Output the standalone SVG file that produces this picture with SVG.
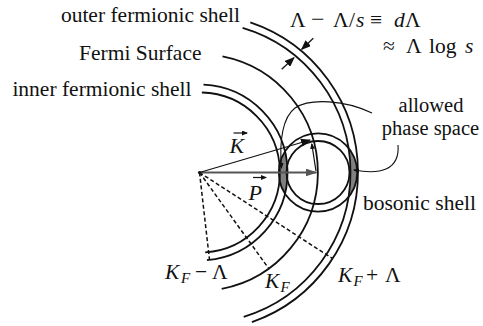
<svg xmlns="http://www.w3.org/2000/svg" width="483" height="326" viewBox="0 0 483 326">
<style>
.arc{fill:none;stroke:#111;stroke-width:1.8}
.dash{fill:none;stroke:#111;stroke-width:1.5;stroke-dasharray:4 2.5}
.lead{fill:none;stroke:#111;stroke-width:1.1}
.vec{fill:none;stroke:#111;stroke-width:1.2}
.lbl{font-family:'Liberation Serif','Tinos','DejaVu Serif','Noto Serif',serif;font-size:21.5px;fill:#111}
.it{font-style:italic}
.sub{font-family:'Liberation Serif','Tinos','DejaVu Serif','Noto Serif',serif;font-size:15px;font-style:italic;fill:#111}
.lens{fill:#808080;stroke:none}
</style>
<defs>
<marker id="ah" markerWidth="10" markerHeight="8" refX="9" refY="4" orient="auto" markerUnits="userSpaceOnUse"><path d="M0,0 L10,4 L0,8 Z" fill="#111"/></marker>
<marker id="ahg" markerWidth="12" markerHeight="8" refX="11" refY="4" orient="auto" markerUnits="userSpaceOnUse"><path d="M0,0 L12,4 L0,8 Z" fill="#555"/></marker>
<marker id="ahs" markerWidth="6" markerHeight="5" refX="5" refY="2.5" orient="auto" markerUnits="userSpaceOnUse"><path d="M0,0 L6,2.5 L0,5 Z" fill="#111"/></marker>
<clipPath id="clipInner"><path clip-rule="evenodd" d="M111.5,172.5 a88,88 0 1,0 176,0 a88,88 0 1,0 -176,0 Z M119.5,172.5 a80,80 0 1,0 160,0 a80,80 0 1,0 -160,0 Z"/></clipPath>
<clipPath id="clipOuter"><path clip-rule="evenodd" d="M41,172.5 a158.5,158.5 0 1,0 317,0 a158.5,158.5 0 1,0 -317,0 Z M48.5,172.5 a151,151 0 1,0 302,0 a151,151 0 1,0 -302,0 Z"/></clipPath>
</defs>

<g id="allowed-phase-space">
<path class="lens" fill-rule="evenodd" clip-path="url(#clipInner)" d="M278.8,172.5 a39.2,39.2 0 1,0 78.4,0 a39.2,39.2 0 1,0 -78.4,0 Z M286.5,172.5 a31.5,31.5 0 1,0 63,0 a31.5,31.5 0 1,0 -63,0 Z"/>
<path class="lens" fill-rule="evenodd" clip-path="url(#clipOuter)" d="M278.8,172.5 a39.2,39.2 0 1,0 78.4,0 a39.2,39.2 0 1,0 -78.4,0 Z M286.5,172.5 a31.5,31.5 0 1,0 63,0 a31.5,31.5 0 1,0 -63,0 Z"/>
<text class="lbl" x="431" y="112" text-anchor="middle" style="font-size:20.5px">allowed</text>
<text class="lbl" x="430.5" y="134.5" text-anchor="middle" style="font-size:20.5px">phase space</text>
</g>

<g id="inner-fermionic-shell">
<path class="arc" d="M201.9,92.5 A80,80 0 0 1 205.2,252.3"/>
<path class="arc" d="M203.5,84.6 A88,88 0 0 1 206.9,260.2"/>
<text class="lbl" x="191.5" y="96" text-anchor="end">inner fermionic shell</text>
</g>

<g id="fermi-surface">
<path class="arc" d="M222.5,56.3 A118.5,118.5 0 0 1 221.7,288.9"/>
<text class="lbl" x="201.5" y="59.5" text-anchor="end">Fermi Surface</text>
</g>

<g id="outer-fermionic-shell">
<path class="arc" d="M242.6,27.8 A151,151 0 0 1 243.7,316.9"/>
<path class="arc" d="M250.3,22.4 A158.5,158.5 0 0 1 251.9,322.1"/>
<text class="lbl" x="240" y="22" text-anchor="end">outer fermionic shell</text>
</g>

<g id="bosonic-shell">
<circle class="arc" cx="318" cy="172.5" r="31.5"/>
<circle class="arc" cx="318" cy="172.5" r="39.2"/>
<text class="lbl" x="363" y="210">bosonic shell</text>
</g>

<g id="shell-width">
<text class="lbl"><tspan x="290" y="26.7">Λ</tspan><tspan x="311" y="26.7" style="font-size:24px">−</tspan><tspan x="333" y="26.7">Λ</tspan><tspan x="349" y="26.7">/</tspan><tspan class="it" x="356" y="26.7">s</tspan><tspan x="370" y="26.7">≡</tspan><tspan class="it" x="394" y="26.7">d</tspan><tspan x="405" y="26.7">Λ</tspan></text>
<text class="lbl"><tspan x="383" y="53">≈</tspan><tspan x="406" y="53">Λ</tspan><tspan x="429" y="53">log</tspan><tspan class="it" x="465" y="53">s</tspan></text>
</g>

<g id="vector-labels">
<text class="lbl it" x="229.5" y="153" style="font-size:22px">K</text>
<text class="lbl it" x="248.5" y="200" style="font-size:22px">P</text>
<text class="lbl"><tspan class="it" x="165" y="279">K</tspan><tspan class="sub" x="181" y="283">F</tspan><tspan x="195" y="279">−</tspan><tspan x="212" y="279">Λ</tspan></text>
<text class="lbl"><tspan class="it" x="265" y="288">K</tspan><tspan class="sub" x="280.5" y="292">F</tspan></text>
<text class="lbl"><tspan class="it" x="338" y="281.5">K</tspan><tspan class="sub" x="353.5" y="285.5">F</tspan><tspan x="366" y="281.5">+</tspan><tspan x="385" y="281.5">Λ</tspan></text>
</g>

<g id="connectors">
<line class="dash" x1="199.5" y1="172.5" x2="209.5" y2="259.9"/>
<line class="dash" x1="199.5" y1="172.5" x2="268.8" y2="268.6"/>
<line class="dash" x1="199.5" y1="172.5" x2="332.6" y2="258.6"/>
<line x1="199.5" y1="172.5" x2="316.5" y2="172.5" stroke="#555" stroke-width="1.8" marker-end="url(#ahg)"/>
<line class="vec" x1="199.5" y1="172.5" x2="310" y2="140" marker-end="url(#ah)"/>
<line class="vec" x1="316" y1="171" x2="311.8" y2="144" marker-end="url(#ahs)"/>
<line class="vec" x1="233.5" y1="133" x2="247" y2="133" marker-end="url(#ahs)"/>
<line class="vec" x1="253" y1="177.5" x2="266" y2="177.5" marker-end="url(#ahs)"/>
<line class="vec" x1="313.3" y1="38.3" x2="301.7" y2="49.3" marker-end="url(#ah)"/>
<line class="vec" x1="281.7" y1="69.3" x2="294" y2="57.7" marker-end="url(#ah)"/>
<path class="lead" d="M372,113 C345,100 310,98 295,108 C283,117 279,140 281.5,168" marker-end="url(#ahs)"/>
<path class="lead" d="M398,145 C400,170 380,175 354,170" marker-end="url(#ahs)"/>
<circle cx="199.5" cy="172.5" r="1.6" fill="#111"/>
</g>
</svg>
